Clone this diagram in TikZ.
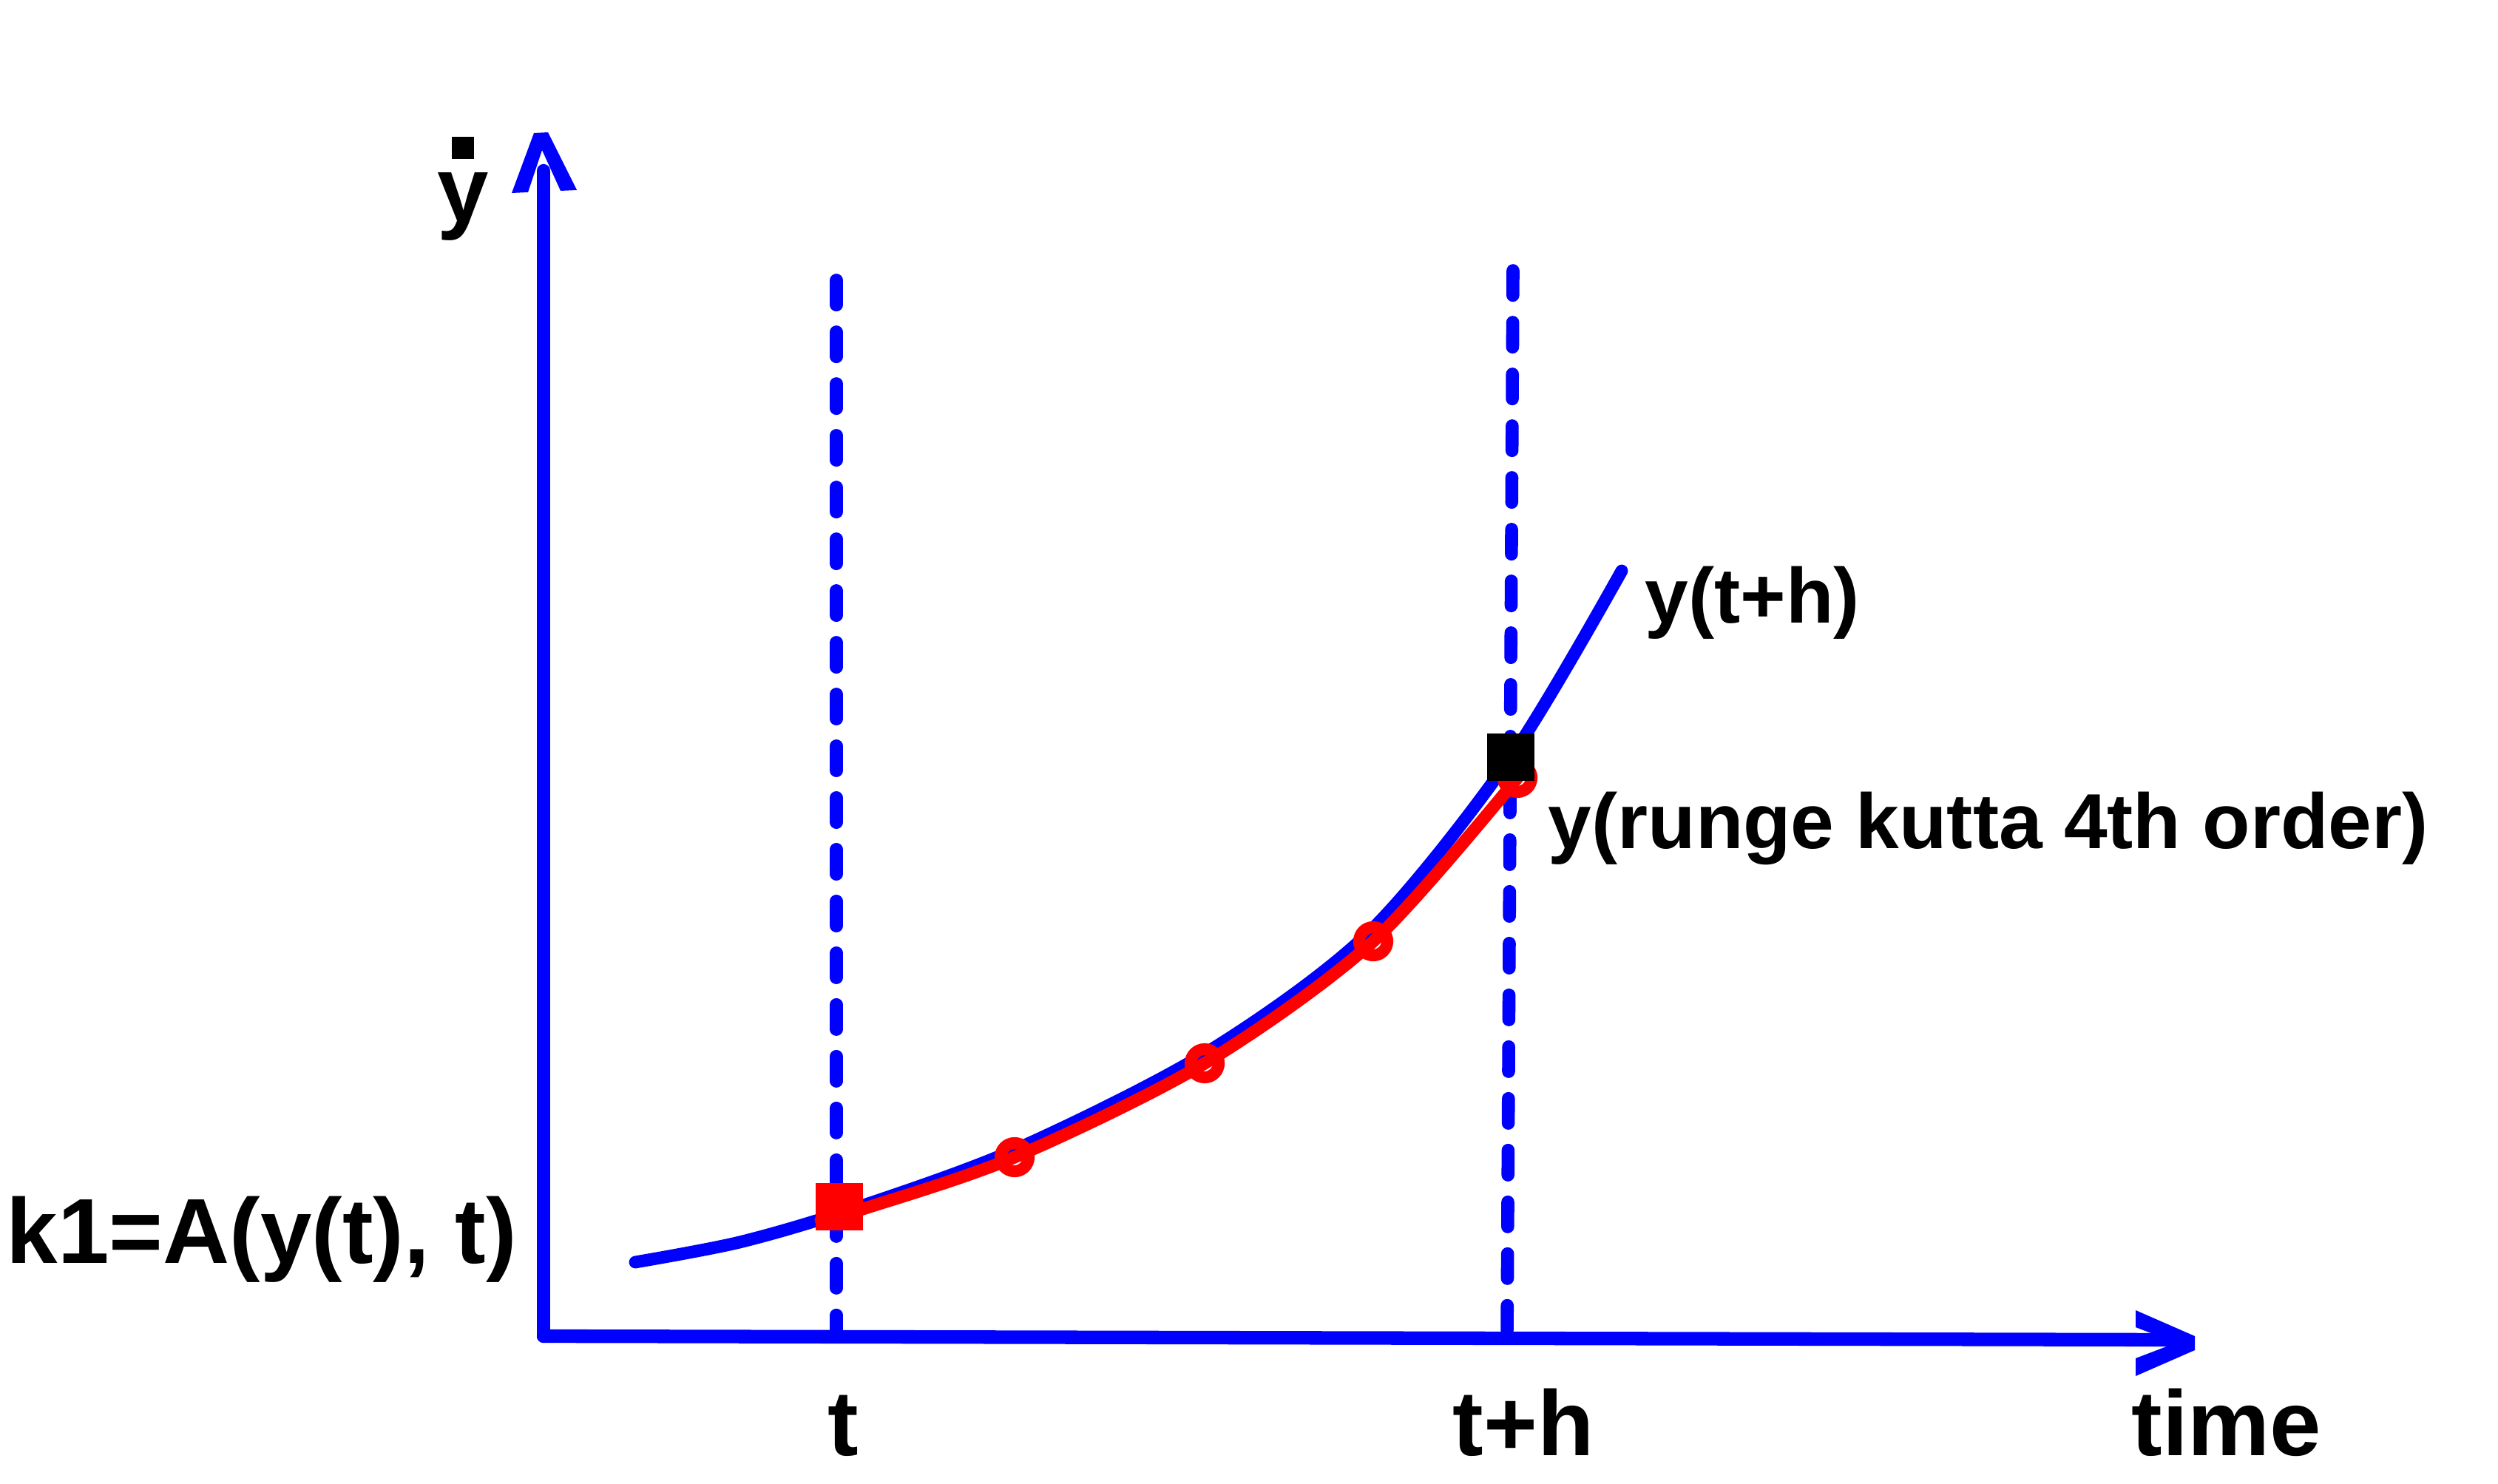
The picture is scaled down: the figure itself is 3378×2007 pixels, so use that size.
\documentclass[tikz,border=0pt]{standalone}
\usepackage{fontspec}
\setmainfont{Liberation Sans}
\newcommand{\dotabove}[1]{\leavevmode\rlap{\hspace{0.16em}\raisebox{0.68em}{\rule{0.24em}{0.24em}}}#1}

\begin{document}
\begin{tikzpicture}[x=0.01cm,y=-0.01cm,
  axis/.style={blue,line width=5.2pt,line cap=round},
  guide/.style={blue,line width=5pt,line cap=round,dash pattern=on 9.5pt off 10.4pt},
  exact/.style={blue,line width=4.8pt,line cap=round},
  approx/.style={red,line width=4.8pt,line cap=round},
  stage/.style={circle,draw=red,line width=4.6pt,minimum size=0.38cm,inner sep=0pt},
  startbox/.style={rectangle,fill=red,minimum size=0.64cm,inner sep=0pt},
  endbox/.style={rectangle,fill=black,minimum size=0.64cm,inner sep=0pt},
  biglabel/.style={font=\bfseries\fontsize{35.5}{40}\selectfont,inner sep=0pt,anchor=base},
  curvelabel/.style={font=\bfseries\fontsize{30}{34}\selectfont,inner sep=0pt,anchor=base west}]

  \useasboundingbox (0,0) rectangle (3378,2007);

  \coordinate (origin) at (735,1807);
  \coordinate (ytop) at (735,231);
  \coordinate (xend) at (2940,1812);
  \coordinate (ttop) at (1131,379);
  \coordinate (tbot) at (1131,1808);
  \coordinate (htop) at (2046,366);
  \coordinate (hbot) at (2038,1808);

  \draw[guide] (ttop) -- (tbot);
  \draw[guide] (htop) -- (hbot);

  \draw[axis] (origin) -- (xend);
  \draw[axis] (origin) -- (ytop);
  \fill[blue] (692,261) -- (722,180) -- (741,179) -- (780,257) -- (758,258) -- (733,203) -- (714,260) -- cycle;
  \fill[blue] (2888,1772) -- (2968,1807) -- (2968,1826) -- (2888,1861) -- (2888,1837) -- (2943,1816) -- (2888,1795) -- cycle;

  \draw[exact] plot[smooth] coordinates {(859,1707) (1000,1680) (1150,1636)
    (1372,1555) (1629,1425) (1850,1262) (2043,1024) (2193,772)};
  \draw[approx] plot[smooth] coordinates {(1110,1650) (1167,1635) (1372,1565)
    (1629,1438) (1857,1273) (2052,1052)};

  \node[stage] (k2) at (1372,1565) {};
  \node[stage] (k3) at (1629,1438) {};
  \node[stage] (k4) at (1857,1273) {};
  \node[stage] (rk) at (2052,1052) {};
  \node[startbox] (start) at (1135,1632) {};
  \node[endbox] (exactend) at (2043,1024) {};

  \node[biglabel] (ydot) at (626,300) {\dotabove{y}};
  \node[biglabel] (k1) at (354,1708) {k1=A(y(t), t)};
  \node[biglabel] (tlabel) at (1140,1968) {t};
  \node[biglabel] (thlabel) at (2060,1968) {t+h};
  \node[biglabel] (timelabel) at (3011,1968) {time};
  \node[curvelabel] (exactlabel) at (2224,843) {y(t+h)};
  \node[curvelabel] (rklabel) at (2093,1147) {y(runge kutta 4th order)};
\end{tikzpicture}
\end{document}
